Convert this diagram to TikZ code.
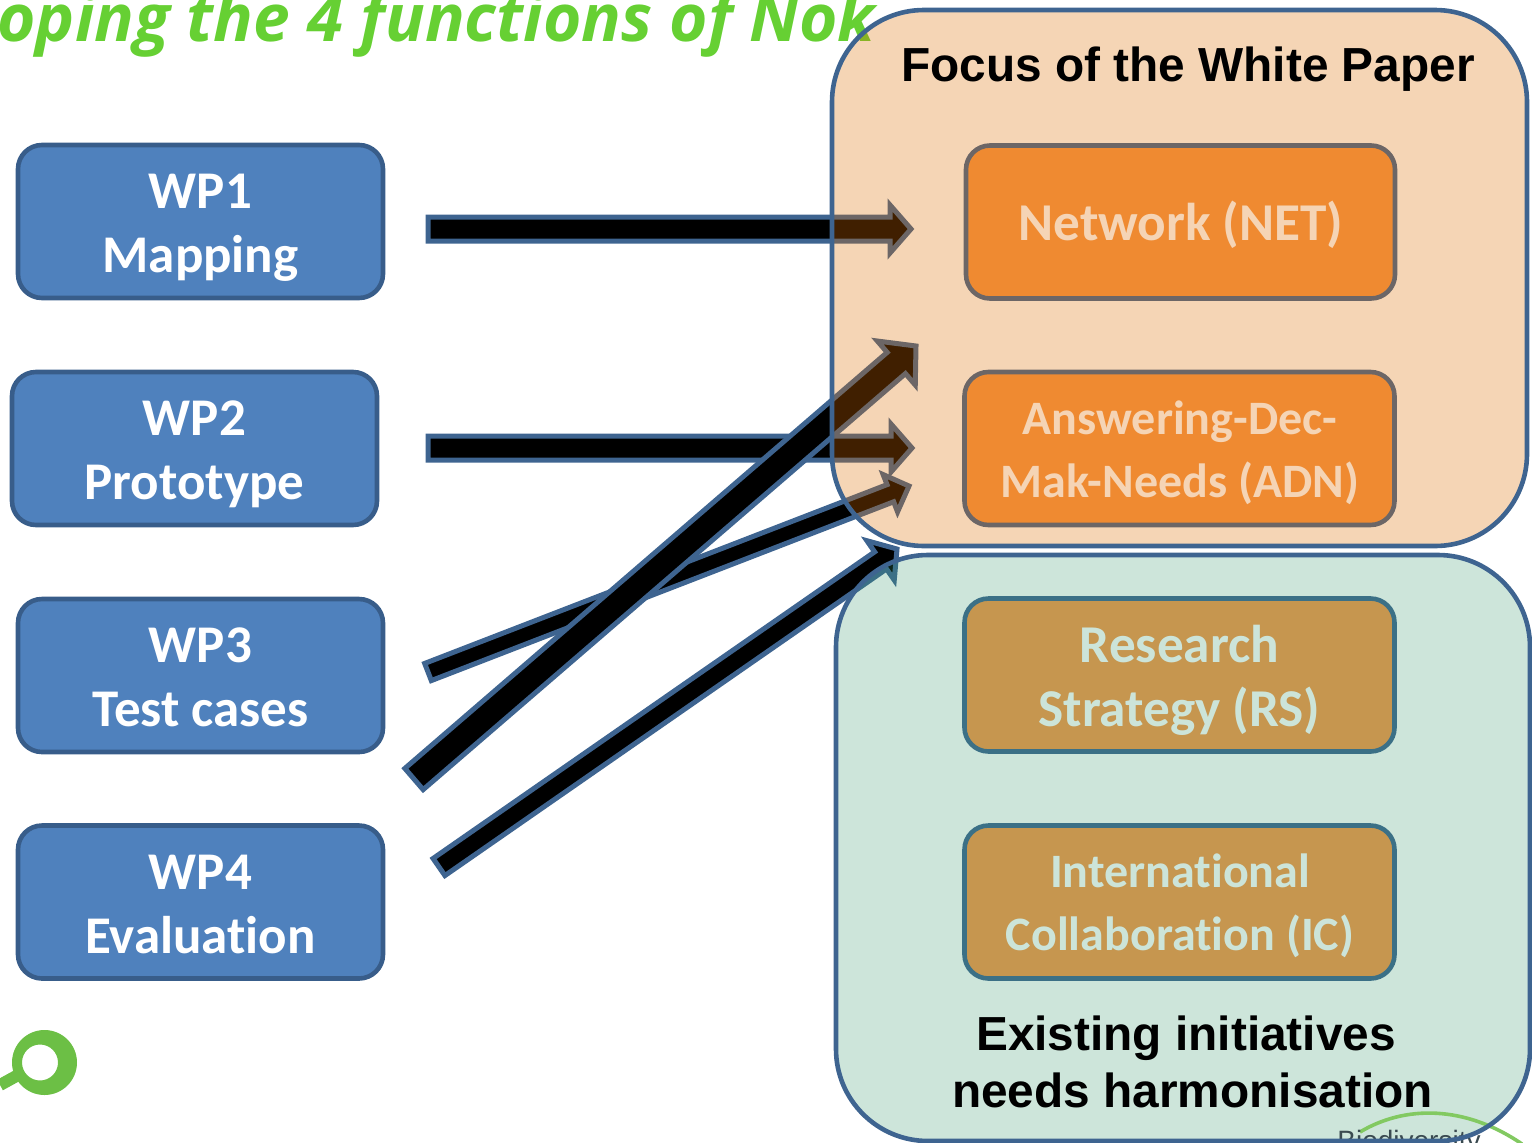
\documentclass[tikz,border=0pt]{standalone}
\usepackage{fontspec}
\usetikzlibrary{calc}
\setmainfont[Ligatures=NoCommon]{Carlito}
\newfontfamily\arialf{Liberation Sans}
\newfontfamily\titlef{Open Sans}
\definecolor{wpfill}{RGB}{79,129,189}
\definecolor{wpline}{RGB}{56,93,138}
\definecolor{edge}{RGB}{62,100,144}
\definecolor{fnfill}{RGB}{247,150,70}
\definecolor{peach}{RGB}{221,110,0}
\definecolor{mint}{RGB}{54,151,107}
\definecolor{leaf}{RGB}{108,191,69}
\definecolor{titlegreen}{RGB}{102,208,51}
\definecolor{logoink}{RGB}{58,74,80}
\tikzset{
  x=0.5pt,y=-0.5pt,
  box/.style={draw=wpline,line width=2.3pt,rounded corners=12pt,inner sep=0pt,outer sep=0pt,align=center,text=white},
  wpbox/.style={box,fill=wpfill,minimum width=182.5pt,minimum height=76.5pt,font=\fontsize{26.5}{32}\selectfont\bfseries},
  fnbox/.style={box,draw=edge,fill=fnfill,minimum width=215pt,minimum height=76.5pt},
  bigtext/.style={font=\fontsize{26.6}{32}\selectfont\bfseries},
  midtext/.style={font=\fontsize{24}{31.5}\selectfont\bfseries},
  arrowline/.style={draw=edge,line width=2.5pt,fill=black,miter limit=10},
  realm/.style={rounded corners=46pt,inner sep=0pt,outer sep=0pt},
  head/.style={font=\arialf\fontsize{23.9}{28.5}\selectfont\bfseries,align=center,text=black,inner sep=0pt},
  lbl/.style={inner sep=0pt,text=white,align=center},
}
% from, to, half body width, half head width, head length (pt)
\newcommand{\blockarrow}[5]{%
  \coordinate (hb) at ($(#2)!#5!(#1)$);
  \draw[arrowline] ($(#1)!#3!90:(#2)$) -- ($(hb)!#3!90:(#2)$) -- ($(hb)!#4!90:(#2)$) -- (#2)
    -- ($(hb)!#4!-90:(#2)$) -- ($(hb)!#3!-90:(#2)$) -- ($(#1)!#3!-90:(#2)$) -- cycle;}
\begin{document}
\begin{tikzpicture}
\useasboundingbox (0,0) rectangle (1532,1142);
\clip (0,0) rectangle (1532,1142);
\node[anchor=base west,inner sep=0pt,text=titlegreen,font=\titlef\fontsize{32.9}{36}\selectfont\bfseries\itshape] (title) at (-3,41) {oping the 4 functions of Nok};

\node[wpbox] (wp1) at (200.5,221.5) {};
\node[lbl,wpbox,draw=none,fill=none] at (200.5,227.5) {WP1\\Mapping};
\node[wpbox] (wp2) at (194.5,448.5) {};
\node[lbl,wpbox,draw=none,fill=none] at (194.5,454.5) {WP2\\Prototype};
\node[wpbox] (wp3) at (200.5,675.5) {};
\node[lbl,wpbox,draw=none,fill=none] at (200.5,677.5) {WP3\\Test cases};
\node[wpbox] (wp4) at (200.5,902) {};
\node[lbl,wpbox,draw=none,fill=none] at (200.5,904) {WP4\\Evaluation};

\node[fnbox,minimum width=214.5pt] (net) at (1180.5,222) {};
\node[lbl,bigtext] at (1181,224.5) {Network (NET)};
\node[fnbox] (adn) at (1179.5,448.5) {};
\node[lbl,midtext] at (1180,452.5) {Answering-Dec-\\Mak-Needs (ADN)};
\node[fnbox] (rs) at (1179.5,675) {};
\node[lbl,bigtext] at (1179.5,680) {Research\\Strategy (RS)};
\node[fnbox] (ic) at (1179.5,902) {};
\node[lbl,midtext] at (1180,906) {International\\Collaboration (IC)};

\coordinate (s1) at (428,229);  \coordinate (t1) at (911,229);
\coordinate (s2) at (428,448);  \coordinate (t2) at (912,448);
\coordinate (s3) at (428,672);  \coordinate (t3) at (909,486);
\coordinate (s4) at (414,779);  \coordinate (t4) at (916,346);
\coordinate (s5) at (439,867);  \coordinate (t5) at (897,549);

\blockarrow{s1}{t1}{6pt}{12pt}{10.5pt}
\blockarrow{s2}{t2}{6pt}{12pt}{10.5pt}
\blockarrow{s3}{t3}{4.6pt}{10pt}{10pt}
\blockarrow{s5}{t5}{5.2pt}{12pt}{10pt}
\blockarrow{s4}{t4}{7pt}{14.5pt}{13pt}

\node[realm,fill=peach,fill opacity=0.29,draw=edge,draw opacity=1,line width=2.3pt,minimum width=347.5pt,minimum height=268pt] (focus) at (1179.5,278) {};
\node[realm,fill=mint,fill opacity=0.25,minimum width=347pt,minimum height=293pt] (exist) at (1183,848) {};

\node[head] (focustext) at (1188,69.5) {Focus of the White Paper};
\node[head] (existtext) at (1186,1038) {Existing initiatives};
\node[head] (existtextb) at (1192.5,1090) {needs harmonisation};

% logos
\draw[leaf,line width=6pt] (0,1085) -- (20,1074);
\fill[leaf,even odd rule] (44.5,1062.5) circle (16.25pt) (40,1062.5) circle (9pt);
\draw[leaf!85!white,line width=1.8pt] (1360,1132) .. controls (1405,1105) and (1465,1105) .. (1522,1144);
\node[anchor=base,inner sep=0pt,text=logoink,font=\arialf\fontsize{14}{16}\selectfont] (bio) at (1409,1150) {Biodiversity};

\node[realm,draw=edge,line width=2.3pt,minimum width=347pt,minimum height=293pt] (existedge) at (1183,848) {};
\end{tikzpicture}
\end{document}
